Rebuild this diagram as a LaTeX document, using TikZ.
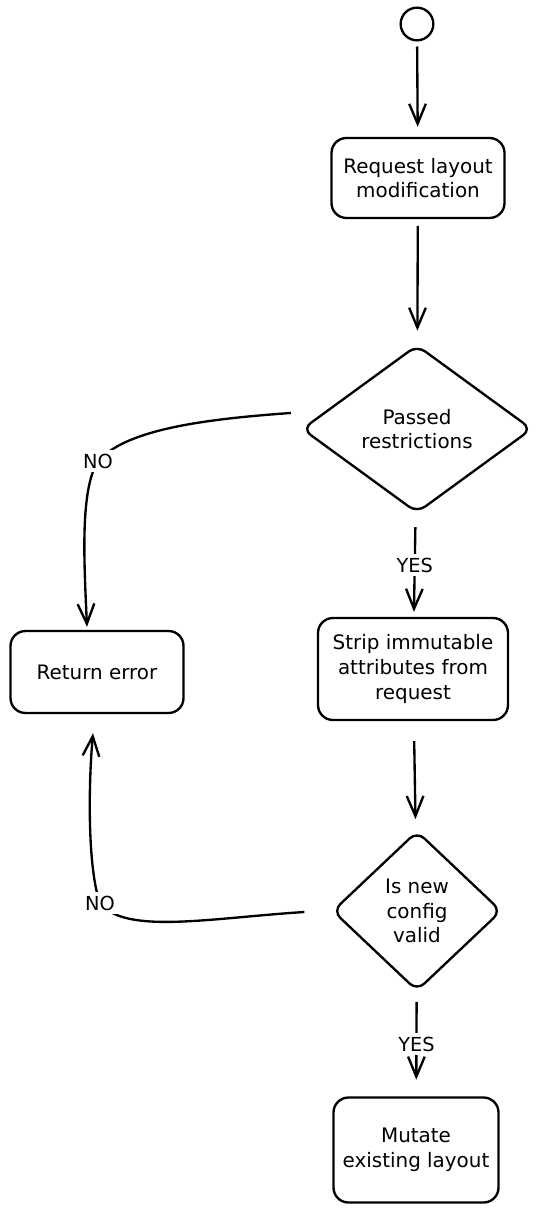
\documentclass[tikz,border=0pt]{standalone}
\usepackage{fontspec}
\setmainfont{DejaVu Sans}
\usetikzlibrary{arrows.meta, shapes.geometric, positioning}

\begin{document}
\begin{tikzpicture}[x=0.03cm, y=-0.03cm,
  font=\fontsize{17}{21}\selectfont,
  stage/.style={
    draw,
    line width=2pt,
    rectangle,
    rounded corners=0.45cm,
    align=center
  },
  check/.style={
    draw,
    line width=2pt,
    diamond,
    rounded corners=0.3cm,
    inner sep=0pt,
    align=center
  },
  line/.style={-{Straight Barb[length=6mm, width=5mm]}, line width=2pt},
  answer/.style={fill=white, inner sep=3pt, font=\fontsize{16.5}{18}\selectfont}
  ]

\useasboundingbox (0,0) rectangle (548,1214);

% Start and stages
\node[draw, circle, line width=2pt, minimum width=0.98cm, minimum height=0.92cm, inner sep=0pt] (start) at (417,24) {};
\node[stage, minimum width=5.19cm, minimum height=2.4cm] (request) at (418,178) {Request layout\\modification};
\node[check, minimum width=6.9cm, minimum height=5.04cm] (passed) at (417,429) {Passed\\restrictions};
\node[stage, minimum width=5.7cm, minimum height=3.06cm] (strip) at (413,669) {Strip immutable\\attributes from\\request};
\node[check, minimum width=5.07cm, minimum height=4.8cm] (valid) at (417,911) {Is new\\config\\valid};
\node[stage, minimum width=5.19cm, minimum height=2.46cm] (error) at (97,672) {Return error};
\node[stage, minimum width=4.95cm, minimum height=3.15cm] (mutate) at (416,1150) {Mutate\\existing layout};

% Arrows
\draw[line, shorten <=0.15cm, shorten >=0.3cm] (start) -- (request);
\draw[line, shorten <=0.2cm, shorten >=0.4cm] (request) -- (passed);
\draw[line, shorten <=0.42cm, shorten >=0.15cm] (passed) -- node[answer]{YES} (strip);
\draw[line, shorten <=0.6cm, shorten >=0.36cm] (strip) -- (valid);
\draw[line, shorten <=0.3cm, shorten >=0.5cm] (valid) -- node[answer]{YES} (mutate);

% NO branches
\draw[line] ([shift={(-10,-16)}]passed.west) .. controls (190,420) and (125,432) .. (98,461) node[answer]{NO}
  .. controls (80,490) and (84,560) .. ([shift={(-10,-3)}]error.north);
\draw[line] ([shift={(-27,1)}]valid.west) .. controls (210,918) and (125,935) .. (100,903) node[answer]{NO}
  .. controls (88,870) and (88,790) .. ([shift={(-4,19)}]error.south);

\end{tikzpicture}
\end{document}
